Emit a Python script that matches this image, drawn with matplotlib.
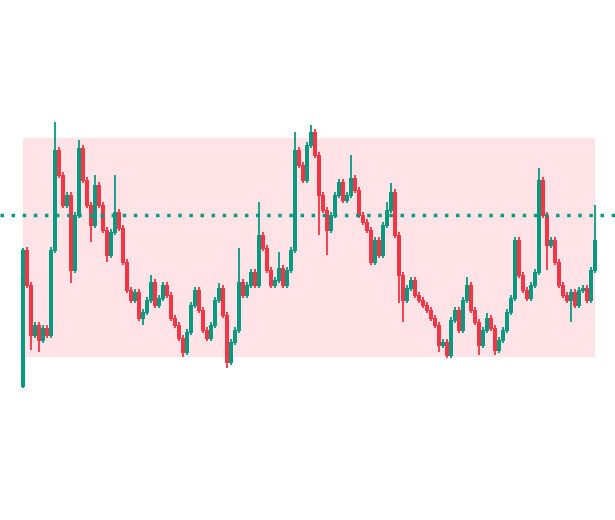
import numpy as np
import matplotlib
matplotlib.use("Agg")
import matplotlib.pyplot as plt
from matplotlib.patches import Rectangle

# candle closes (price units), opens are the previous close
first_open = 134
closes = [
    270, 235, 185, 195, 180, 192, 185, 270, 370, 345,
    315, 325, 250, 305, 372, 340, 315, 295, 335, 315,
    290, 265, 288, 308, 292, 258, 230, 220, 228, 202,
    208, 220, 238, 215, 222, 235, 225, 202, 195, 182,
    168, 188, 215, 230, 210, 190, 182, 195, 220, 232,
    205, 158, 178, 190, 238, 225, 235, 248, 235, 285,
    272, 250, 235, 240, 252, 235, 250, 270, 370, 355,
    340, 375, 388, 365, 325, 310, 290, 305, 325, 338,
    320, 325, 342, 330, 305, 298, 290, 258, 280, 265,
    295, 310, 328, 285, 245, 220, 232, 240, 225, 220,
    215, 210, 202, 195, 175, 178, 165, 200, 210, 190,
    220, 235, 210, 198, 175, 190, 202, 192, 170, 180,
    190, 208, 222, 280, 245, 230, 222, 235, 248, 340,
    305, 275, 280, 258, 235, 225, 220, 228, 215, 230,
    232, 220, 250, 280,
]
# wick lengths above / below the body
upper_wick = [
    2, 3, 3, 3, 3, 3, 3, 3, 28, 3,
    3, 3, 3, 3, 8, 3, 3, 3, 10, 3,
    3, 3, 3, 37, 3, 3, 3, 3, 3, 3,
    3, 3, 7, 3, 3, 3, 3, 3, 3, 3,
    3, 3, 3, 3, 3, 3, 3, 3, 3, 5,
    3, 3, 3, 3, 34, 3, 3, 3, 3, 33,
    3, 3, 3, 3, 16, 3, 3, 3, 18, 3,
    3, 3, 7, 3, 3, 3, 3, 3, 3, 3,
    3, 3, 23, 3, 3, 3, 3, 3, 3, 3,
    3, 8, 9, 3, 3, 3, 3, 3, 3, 3,
    3, 3, 3, 3, 3, 3, 3, 3, 3, 3,
    3, 8, 3, 3, 3, 3, 5, 3, 3, 3,
    3, 3, 3, 3, 3, 3, 3, 3, 3, 12,
    3, 3, 3, 3, 3, 3, 3, 3, 3, 3,
    3, 3, 3, 35,
]
lower_wick = [
    2, 3, 15, 3, 12, 3, 3, 3, 3, 3,
    3, 3, 13, 3, 3, 3, 3, 17, 3, 3,
    3, 7, 3, 3, 3, 3, 3, 3, 3, 3,
    7, 3, 3, 3, 3, 3, 3, 3, 3, 3,
    5, 3, 3, 3, 3, 3, 3, 3, 3, 3,
    3, 6, 3, 3, 3, 3, 3, 3, 3, 3,
    3, 3, 3, 3, 3, 3, 3, 3, 3, 3,
    3, 3, 3, 3, 40, 3, 25, 3, 3, 3,
    3, 3, 3, 3, 3, 3, 3, 3, 3, 3,
    3, 3, 3, 3, 28, 22, 3, 3, 3, 3,
    3, 3, 3, 3, 7, 3, 3, 3, 3, 3,
    3, 3, 3, 3, 10, 3, 3, 3, 5, 3,
    3, 3, 3, 3, 3, 3, 3, 3, 3, 3,
    3, 25, 3, 3, 3, 3, 3, 22, 3, 3,
    3, 3, 3, 3,
]

range_top = 382
range_bottom = 163
level = 305

green = "#089981"
red = "#F23645"

closes = np.array(closes, dtype=float)
opens = np.concatenate([[first_open], closes[:-1]])
highs = np.maximum(opens, closes) + np.array(upper_wick)
lows = np.minimum(opens, closes) - np.array(lower_wick)
idx = np.arange(len(closes))
up = closes >= opens
colors = np.where(up, green, red)

fig = plt.figure(figsize=(6.15, 5.2), dpi=100)
ax = fig.add_axes([0, 0, 1, 1])

# range box
ax.add_patch(Rectangle((0, range_bottom), len(closes) - 1, range_top - range_bottom,
                       facecolor="#FFE3E7", edgecolor="none", zorder=0))

# candles
ax.vlines(idx, lows, highs, colors=colors, linewidth=1.3, zorder=2)
ax.bar(idx, np.abs(closes - opens) + 1.0, bottom=np.minimum(opens, closes) - 0.5,
       width=0.85, color=colors, linewidth=0, zorder=3)

# level line
ax.axhline(level, color=green, linestyle=(0, (1, 2.2)), linewidth=2.5, zorder=4)

ax.set_xlim(-5.75, 148)
ax.set_ylim(0, 520)
ax.axis("off")

fig.savefig("out.png", dpi=100)
